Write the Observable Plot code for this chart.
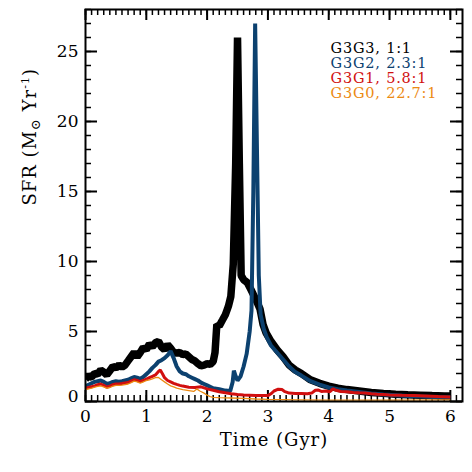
<!DOCTYPE html>
<html><head><meta charset="utf-8">
<script src="https://cdn.jsdelivr.net/npm/d3@7"></script>
<script src="https://cdn.jsdelivr.net/npm/@observablehq/plot@0.6"></script>
<style>body{margin:0;background:#fff}</style>
</head><body><div id="chart"></div>
<script>
// G3G3 1:1 (black)
const timeG3G3 = [0,0.05,0.1,0.15,0.2,0.25,0.3,0.35,0.4,0.45,0.5,0.55,0.6,0.65,0.7,0.75,0.8,0.85,0.9,0.95,1.0,1.05,1.1,1.15,1.2,1.25,1.3,1.35,1.4,1.45,1.5,1.55,1.6,1.65,1.7,1.75,1.8,1.85,1.9,1.95,2.0,2.05,2.1,2.13,2.16,2.2,2.25,2.3,2.35,2.39,2.43,2.47,2.5,2.53,2.56,2.6,2.66,2.72,2.8,2.87,2.92,2.97,3.05,3.15,3.25,3.35,3.45,3.55,3.7,3.85,4.0,4.15,4.3,4.5,4.7,4.9,5.1,5.3,5.5,5.7,5.9,6.0];
const sfrG3G3  = [1.6,1.8,1.75,2.0,1.95,2.25,2.1,1.9,2.2,2.5,2.4,2.6,2.45,2.6,2.9,3.2,3.5,3.2,3.5,3.85,3.7,4.1,3.9,4.2,4.3,3.9,3.7,4.05,3.8,3.5,3.45,3.5,3.35,3.4,3.2,3.0,2.9,2.7,2.55,2.6,2.7,2.65,2.85,3.5,5.5,5.4,5.8,6.2,6.8,7.5,9.8,17,26,17,9.0,8.7,8.5,8.0,7.3,6.6,5.5,4.9,4.3,3.7,3.2,2.6,2.25,2.0,1.55,1.3,1.1,0.95,0.85,0.75,0.65,0.58,0.52,0.48,0.45,0.42,0.4,0.4];
// G3G2 2.3:1 (blue)
const timeG3G2 = [0,0.05,0.1,0.15,0.2,0.25,0.3,0.35,0.4,0.45,0.5,0.55,0.6,0.65,0.7,0.75,0.8,0.85,0.9,0.95,1.0,1.05,1.1,1.15,1.2,1.25,1.3,1.35,1.4,1.45,1.5,1.55,1.6,1.65,1.7,1.75,1.8,1.85,1.9,1.95,2.0,2.05,2.1,2.2,2.3,2.38,2.42,2.44,2.47,2.5,2.55,2.6,2.65,2.7,2.73,2.76,2.79,2.82,2.85,2.88,2.93,2.98,3.05,3.15,3.25,3.35,3.45,3.55,3.7,3.85,4.0,4.15,4.3,4.5,4.7,4.9,5.1,5.3,5.5,5.7,5.9,6.0];
const sfrG3G2  = [1.1,1.2,1.3,1.4,1.45,1.5,1.4,1.25,1.3,1.4,1.45,1.42,1.45,1.5,1.55,1.65,1.75,1.7,1.62,1.75,1.95,2.15,2.4,2.6,2.85,2.95,3.1,3.3,3.6,3.1,2.5,2.15,2.0,1.95,1.8,1.7,1.6,1.5,1.35,1.25,1.15,1.05,0.95,0.88,0.78,0.75,1.4,2.2,1.8,1.5,1.8,2.5,3.4,5.0,6.5,15,27,18,9,6.2,5.2,4.6,4.0,3.5,3.0,2.5,2.1,1.85,1.45,1.2,1.0,0.88,0.78,0.68,0.58,0.5,0.45,0.4,0.36,0.33,0.3,0.3];
// G3G1 5.8:1 (red)
const timeG3G1 = [0,0.05,0.1,0.15,0.2,0.25,0.3,0.35,0.4,0.45,0.5,0.55,0.6,0.65,0.7,0.75,0.8,0.85,0.9,0.95,1.0,1.05,1.1,1.15,1.2,1.23,1.27,1.3,1.35,1.4,1.45,1.5,1.55,1.6,1.7,1.8,1.9,2.0,2.1,2.2,2.3,2.4,2.5,2.6,2.7,2.8,2.9,3.0,3.05,3.1,3.17,3.23,3.28,3.35,3.45,3.55,3.65,3.72,3.78,3.83,3.88,3.95,4.02,4.07,4.12,4.2,4.3,4.4,4.5,4.6,4.7,4.8,4.9,5.0,5.2,5.4,5.6,5.8,6.0];
const sfrG3G1  = [0.95,1.0,1.05,1.12,1.2,1.25,1.15,1.02,1.1,1.2,1.25,1.25,1.28,1.32,1.35,1.45,1.55,1.5,1.42,1.5,1.6,1.7,1.8,1.9,2.15,2.25,1.95,1.7,1.5,1.4,1.3,1.22,1.15,1.1,1.02,1.0,1.05,0.9,0.8,0.7,0.62,0.55,0.5,0.47,0.45,0.43,0.42,0.42,0.55,0.75,0.88,0.85,0.7,0.6,0.57,0.58,0.56,0.6,0.8,0.82,0.72,0.75,0.7,0.9,0.8,0.72,0.7,0.65,0.62,0.6,0.55,0.52,0.5,0.47,0.44,0.42,0.4,0.36,0.33];
// G3G0 22.7:1 (orange)
const timeG3G0 = [0,0.05,0.1,0.15,0.2,0.25,0.3,0.35,0.4,0.45,0.5,0.55,0.6,0.65,0.7,0.75,0.8,0.85,0.9,0.95,1.0,1.05,1.1,1.15,1.2,1.25,1.3,1.35,1.4,1.45,1.5,1.55,1.6,1.7,1.78,1.83,1.88,1.95,2.0,2.05,2.1,2.2,2.4,2.6,2.8,3.0,3.5,4.0,5.0,6.0];
const sfrG3G0  = [0.85,0.9,0.95,1.02,1.08,1.12,1.05,0.95,1.0,1.1,1.15,1.15,1.17,1.2,1.25,1.35,1.45,1.4,1.32,1.4,1.5,1.55,1.62,1.7,1.72,1.55,1.4,1.25,1.12,1.05,0.95,0.9,0.85,0.78,0.72,0.9,0.75,0.6,0.45,0.35,0.3,0.27,0.25,0.22,0.18,0.15,0.12,0.1,0.1,0.12];

const legendLabels = ["G3G3, 1:1", "G3G2, 2.3:1", "G3G1, 5.8:1", "G3G0, 22.7:1"];
const seriesColors = ["#000000", "#0c416f", "#d10f0f", "#ec8a12"];
const seriesWidths = [7.5, 4, 3, 1.3];
const xTicks = [0, 1, 2, 3, 4, 5, 6];
const yTicks = [5, 10, 15, 20, 25];
const yZeroTick = [0];

const series = [[timeG3G3, sfrG3G3], [timeG3G2, sfrG3G2], [timeG3G1, sfrG3G1], [timeG3G0, sfrG3G0]]
  .map(([t, v]) => t.map((x, i) => ({t: x, sfr: v[i]})));

const W = 472, H = 472, mL = 85, mR = 10, mT = 9, mB = 71;
const ph = H - mT - mB, pw = W - mL - mR;
const xMinor = d3.range(0, 62).map(i => i / 10);
const yMinor = d3.range(0, 29);

const tickStyle = {stroke: "black"};
const marks = [
  // minor ticks
  Plot.tickX(xMinor, {x: d => d, insetTop: ph - 6, strokeWidth: 1.5, ...tickStyle}),
  Plot.tickX(xMinor, {x: d => d, insetBottom: ph - 6, strokeWidth: 1.5, ...tickStyle}),
  Plot.tickY(yMinor, {y: d => d, insetRight: pw - 6, strokeWidth: 1.5, ...tickStyle}),
  Plot.tickY(yMinor, {y: d => d, insetLeft: pw - 6, strokeWidth: 1.5, ...tickStyle}),
  // major ticks
  Plot.tickX(xTicks, {x: d => d, insetTop: ph - 11, strokeWidth: 2, ...tickStyle}),
  Plot.tickX(xTicks, {x: d => d, insetBottom: ph - 11, strokeWidth: 2, ...tickStyle}),
  Plot.tickY([0, ...yTicks], {y: d => d, insetRight: pw - 12, strokeWidth: 2, ...tickStyle}),
  Plot.tickY([0, ...yTicks], {y: d => d, insetLeft: pw - 12, strokeWidth: 2, ...tickStyle}),
  // lines
  ...series.map((s, i) => Plot.line(s, {x: "t", y: "sfr", stroke: seriesColors[i], strokeWidth: seriesWidths[i], strokeLinejoin: "bevel", strokeLinecap: "butt", clip: true})),
  Plot.frame({stroke: "black", strokeWidth: 2}),
  // tick labels
  Plot.text(xTicks, {x: d => d, text: d => String(d), frameAnchor: "bottom", dy: 20, fontSize: 17}),
  Plot.text(yTicks, {y: d => d, text: d => String(d), frameAnchor: "left", textAnchor: "end", dx: -7, fontSize: 17}),
  Plot.text(yZeroTick, {y: d => d, text: d => String(d), frameAnchor: "left", textAnchor: "end", dx: -7, dy: -5, fontSize: 17}),
  // axis titles
  Plot.text(["Time (Gyr)"], {text: d => d, frameAnchor: "bottom", dy: 44, fontSize: 18}),
  Plot.text(["SFR (M Yr)"], {text: d => d, frameAnchor: "left", dx: -55, rotate: -90, fontSize: 18}),
  // legend
  ...legendLabels.map((lab, i) => Plot.text([lab], {text: d => d, frameAnchor: "top-left", dx: 245, dy: 33 + i * 15, textAnchor: "start", fill: seriesColors[i], fontSize: 14.5}))
];

const chart = Plot.plot({
  width: W, height: H,
  marginLeft: mL, marginRight: mR, marginTop: mT, marginBottom: mB,
  x: {domain: [0, 6.2], axis: null},
  y: {domain: [0, 28], axis: null},
  style: {fontFamily: "'DejaVu Serif', serif", background: "white", color: "black"},
  marks
});

// letter spacing to match the wide reference lettering
d3.select(chart).selectAll("text").filter(function() { return this.textContent === "Time (Gyr)" || this.textContent === "SFR (M Yr)"; })
  .attr("letter-spacing", 1);
d3.select(chart).selectAll("text").filter(function() { return legendLabels.includes(this.textContent); })
  .attr("letter-spacing", 0.8);

// rich text for y-axis title: subscript sun symbol and superscript -1
d3.select(chart).selectAll("text").filter(function() { return this.textContent === "SFR (M Yr)"; })
  .each(function() {
    const t = d3.select(this);
    t.text("");
    t.append("tspan").text("SFR (M");
    t.append("tspan").attr("dy", 4).attr("font-size", 13).text("⊙");
    t.append("tspan").attr("dy", -4).text(" Yr");
    t.append("tspan").attr("dy", -7).attr("font-size", 11).text("-1");
    t.append("tspan").attr("dy", 7).text(")");
  });

document.getElementById("chart").appendChild(chart);
</script>
</body></html>
